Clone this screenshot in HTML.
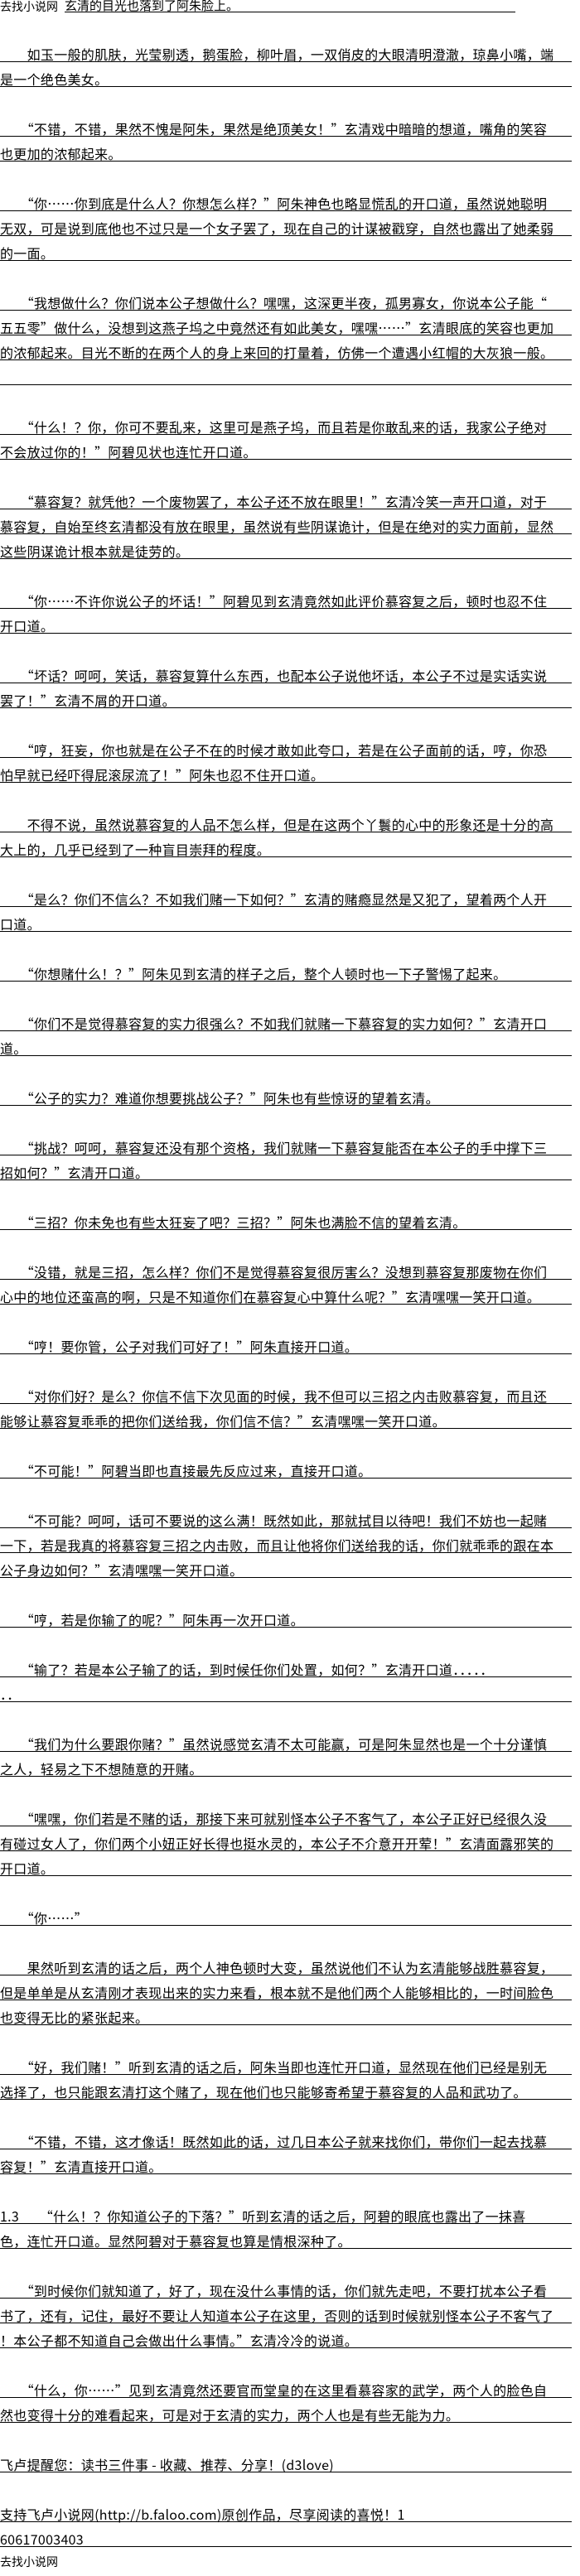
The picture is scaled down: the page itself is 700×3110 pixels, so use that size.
<!DOCTYPE html>
<html><head><meta charset="utf-8">
<style>
html,body{margin:0;padding:0;background:#fff;}
body{width:700px;height:3110px;position:relative;overflow:hidden;font-family:"Noto Sans CJK SC","Liberation Sans",sans-serif;color:#000;}
.l{position:absolute;left:0;width:690px;height:30px;box-sizing:border-box;border-bottom:1px solid #000;font-size:16px;line-height:16px;padding-top:12px;white-space:pre;letter-spacing:0.3px;}
.h{position:absolute;font-size:14px;line-height:14px;white-space:pre;}
</style></head><body>
<div class="h" style="left:0;top:1px;">去找小说网</div>
<div style="position:absolute;left:78px;top:0;width:544px;height:15px;border-bottom:1px solid #000;box-sizing:border-box;"></div>
<div class="h" style="left:78px;top:0px;font-size:15px;">玄清的目光也落到了阿朱脸上。</div>
<div class="l" style="top:45px">　　如玉一般的肌肤，光莹剔透，鹅蛋脸，柳叶眉，一双俏皮的大眼清明澄澈，琼鼻小嘴，端</div>
<div class="l" style="top:75px">是一个绝色美女。</div>
<div class="l" style="top:135px">　　“不错，不错，果然不愧是阿朱，果然是绝顶美女！”玄清戏中暗暗的想道，嘴角的笑容</div>
<div class="l" style="top:165px">也更加的浓郁起来。</div>
<div class="l" style="top:225px">　　“你……你到底是什么人？你想怎么样？”阿朱神色也略显慌乱的开口道，虽然说她聪明</div>
<div class="l" style="top:255px">无双，可是说到底他也不过只是一个女子罢了，现在自己的计谋被戳穿，自然也露出了她柔弱</div>
<div class="l" style="top:285px">的一面。</div>
<div class="l" style="top:345px">　　“我想做什么？你们说本公子想做什么？嘿嘿，这深更半夜，孤男寡女，你说本公子能“</div>
<div class="l" style="top:375px">五五零”做什么，没想到这燕子坞之中竟然还有如此美女，嘿嘿……”玄清眼底的笑容也更加</div>
<div class="l" style="top:405px">的浓郁起来。目光不断的在两个人的身上来回的打量着，仿佛一个遭遇小红帽的大灰狼一般。</div>
<div class="l" style="top:435px"></div>
<div class="l" style="top:495px">　　“什么！？你，你可不要乱来，这里可是燕子坞，而且若是你敢乱来的话，我家公子绝对</div>
<div class="l" style="top:525px">不会放过你的！”阿碧见状也连忙开口道。</div>
<div class="l" style="top:585px">　　“慕容复？就凭他？一个废物罢了，本公子还不放在眼里！”玄清冷笑一声开口道，对于</div>
<div class="l" style="top:615px">慕容复，自始至终玄清都没有放在眼里，虽然说有些阴谋诡计，但是在绝对的实力面前，显然</div>
<div class="l" style="top:645px">这些阴谋诡计根本就是徒劳的。</div>
<div class="l" style="top:705px">　　“你……不许你说公子的坏话！”阿碧见到玄清竟然如此评价慕容复之后，顿时也忍不住</div>
<div class="l" style="top:735px">开口道。</div>
<div class="l" style="top:795px">　　“坏话？呵呵，笑话，慕容复算什么东西，也配本公子说他坏话，本公子不过是实话实说</div>
<div class="l" style="top:825px">罢了！”玄清不屑的开口道。</div>
<div class="l" style="top:885px">　　“哼，狂妄，你也就是在公子不在的时候才敢如此夸口，若是在公子面前的话，哼，你恐</div>
<div class="l" style="top:915px">怕早就已经吓得屁滚尿流了！”阿朱也忍不住开口道。</div>
<div class="l" style="top:975px">　　不得不说，虽然说慕容复的人品不怎么样，但是在这两个丫鬟的心中的形象还是十分的高</div>
<div class="l" style="top:1005px">大上的，几乎已经到了一种盲目崇拜的程度。</div>
<div class="l" style="top:1065px">　　“是么？你们不信么？不如我们赌一下如何？”玄清的赌瘾显然是又犯了，望着两个人开</div>
<div class="l" style="top:1095px">口道。</div>
<div class="l" style="top:1155px">　　“你想赌什么！？”阿朱见到玄清的样子之后，整个人顿时也一下子警惕了起来。</div>
<div class="l" style="top:1215px">　　“你们不是觉得慕容复的实力很强么？不如我们就赌一下慕容复的实力如何？”玄清开口</div>
<div class="l" style="top:1245px">道。</div>
<div class="l" style="top:1305px">　　“公子的实力？难道你想要挑战公子？”阿朱也有些惊讶的望着玄清。</div>
<div class="l" style="top:1365px">　　“挑战？呵呵，慕容复还没有那个资格，我们就赌一下慕容复能否在本公子的手中撑下三</div>
<div class="l" style="top:1395px">招如何？”玄清开口道。</div>
<div class="l" style="top:1455px">　　“三招？你未免也有些太狂妄了吧？三招？”阿朱也满脸不信的望着玄清。</div>
<div class="l" style="top:1515px">　　“没错，就是三招，怎么样？你们不是觉得慕容复很厉害么？没想到慕容复那废物在你们</div>
<div class="l" style="top:1545px">心中的地位还蛮高的啊，只是不知道你们在慕容复心中算什么呢？”玄清嘿嘿一笑开口道。</div>
<div class="l" style="top:1605px">　　“哼！要你管，公子对我们可好了！”阿朱直接开口道。</div>
<div class="l" style="top:1665px">　　“对你们好？是么？你信不信下次见面的时候，我不但可以三招之内击败慕容复，而且还</div>
<div class="l" style="top:1695px">能够让慕容复乖乖的把你们送给我，你们信不信？”玄清嘿嘿一笑开口道。</div>
<div class="l" style="top:1755px">　　“不可能！”阿碧当即也直接最先反应过来，直接开口道。</div>
<div class="l" style="top:1815px">　　“不可能？呵呵，话可不要说的这么满！既然如此，那就拭目以待吧！我们不妨也一起赌</div>
<div class="l" style="top:1845px">一下，若是我真的将慕容复三招之内击败，而且让他将你们送给我的话，你们就乖乖的跟在本</div>
<div class="l" style="top:1875px">公子身边如何？”玄清嘿嘿一笑开口道。</div>
<div class="l" style="top:1935px">　　“哼，若是你输了的呢？”阿朱再一次开口道。</div>
<div class="l" style="top:1995px">　　“输了？若是本公子输了的话，到时候任你们处置，如何？”玄清开口道．．．．．</div>
<div class="l" style="top:2025px">．．</div>
<div class="l" style="top:2085px">　　“我们为什么要跟你赌？”虽然说感觉玄清不太可能赢，可是阿朱显然也是一个十分谨慎</div>
<div class="l" style="top:2115px">之人，轻易之下不想随意的开赌。</div>
<div class="l" style="top:2175px">　　“嘿嘿，你们若是不赌的话，那接下来可就别怪本公子不客气了，本公子正好已经很久没</div>
<div class="l" style="top:2205px">有碰过女人了，你们两个小妞正好长得也挺水灵的，本公子不介意开开荤！”玄清面露邪笑的</div>
<div class="l" style="top:2235px">开口道。</div>
<div class="l" style="top:2295px">　　“你……”</div>
<div class="l" style="top:2355px">　　果然听到玄清的话之后，两个人神色顿时大变，虽然说他们不认为玄清能够战胜慕容复，</div>
<div class="l" style="top:2385px">但是单单是从玄清刚才表现出来的实力来看，根本就不是他们两个人能够相比的，一时间脸色</div>
<div class="l" style="top:2415px">也变得无比的紧张起来。</div>
<div class="l" style="top:2475px">　　“好，我们赌！”听到玄清的话之后，阿朱当即也连忙开口道，显然现在他们已经是别无</div>
<div class="l" style="top:2505px">选择了，也只能跟玄清打这个赌了，现在他们也只能够寄希望于慕容复的人品和武功了。</div>
<div class="l" style="top:2565px">　　“不错，不错，这才像话！既然如此的话，过几日本公子就来找你们，带你们一起去找慕</div>
<div class="l" style="top:2595px">容复！”玄清直接开口道。</div>
<div class="l" style="top:2655px">1.3　　“什么！？你知道公子的下落？”听到玄清的话之后，阿碧的眼底也露出了一抹喜</div>
<div class="l" style="top:2685px">色，连忙开口道。显然阿碧对于慕容复也算是情根深种了。</div>
<div class="l" style="top:2745px">　　“到时候你们就知道了，好了，现在没什么事情的话，你们就先走吧，不要打扰本公子看</div>
<div class="l" style="top:2775px">书了，还有，记住，最好不要让人知道本公子在这里，否则的话到时候就别怪本公子不客气了</div>
<div class="l" style="top:2805px">！本公子都不知道自己会做出什么事情。”玄清冷冷的说道。</div>
<div class="l" style="top:2865px">　　“什么，你……”见到玄清竟然还要官而堂皇的在这里看慕容家的武学，两个人的脸色自</div>
<div class="l" style="top:2895px">然也变得十分的难看起来，可是对于玄清的实力，两个人也是有些无能为力。</div>
<div class="l" style="top:2955px">飞卢提醒您：读书三件事 - 收藏、推荐、分享！(d3love)</div>
<div class="l" style="top:3015px">支持飞卢小说网(http://b.faloo.com)原创作品，尽享阅读的喜悦！1</div>
<div class="l" style="top:3045px">60617003403</div>
<div class="h" style="left:0;top:3086px;">去找小说网</div>
</body></html>
